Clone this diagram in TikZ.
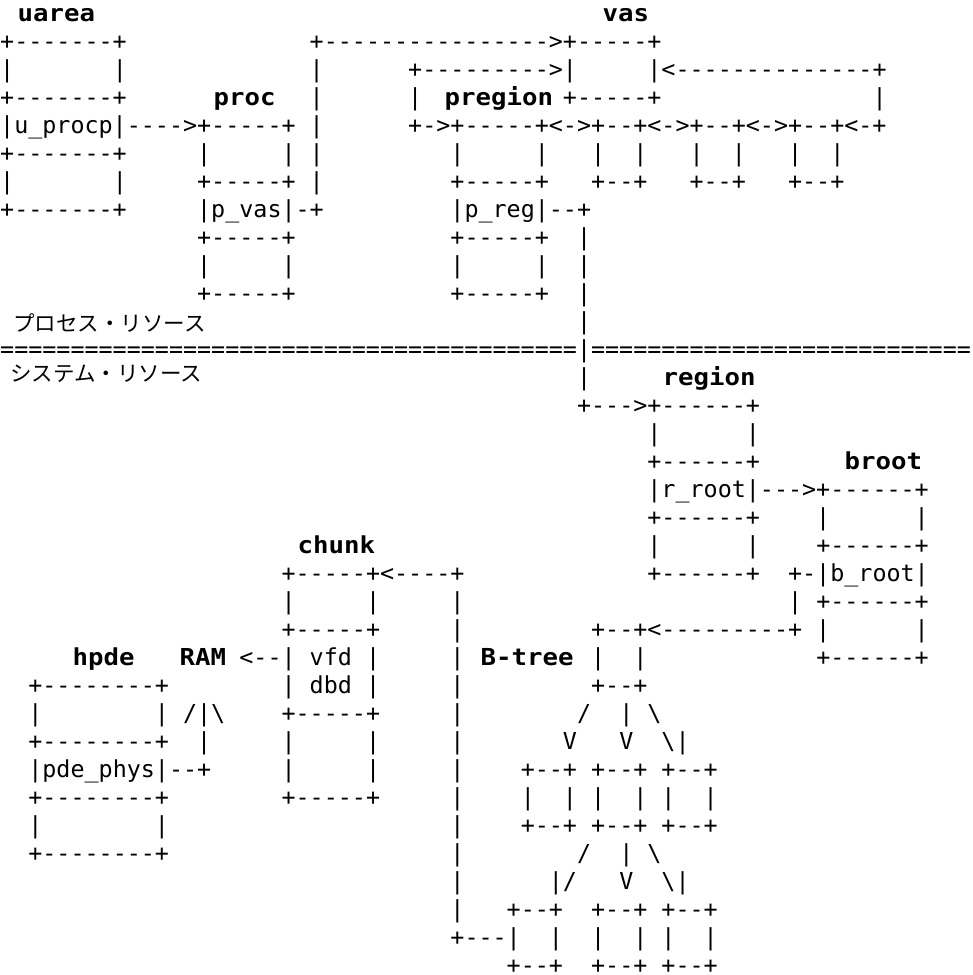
\documentclass[tikz,border=0pt]{standalone}
\usepackage{fontspec}
\setmonofont{DejaVu Sans Mono}
\newfontfamily\lblfont{DejaVu Sans Mono}[FakeStretch=1.1]
\newfontfamily\jpfont{Noto Sans CJK JP}
\newlength\cw
\setlength\cw{14.07pt}
\newcommand\sk[1]{\hspace{#1\cw}}

\begin{document}
\begin{tikzpicture}[x=1pt,y=1pt,
  asc/.style={anchor=base west,inner sep=0pt,font=\ttfamily\fontsize{23.37pt}{28pt}\selectfont},
  lbl/.style={anchor=base west,inner sep=0pt,font=\lblfont\bfseries\fontsize{23.37pt}{28pt}\selectfont},
  jp/.style={anchor=base west,inner sep=0pt,font=\jpfont\fontsize{21.5pt}{28pt}\selectfont}
]
\path[use as bounding box] (0,0) rectangle (973,-975);
\node[lbl] (uarea) at (17.5,-21) {uarea};
\node[lbl] (vas) at (602.5,-21) {vas};
\node[lbl] (proc) at (213.5,-105) {proc};
\node[lbl] (pregion) at (444.5,-105) {pregion};
\node[lbl] (region) at (662.5,-385) {region};
\node[lbl] (broot) at (844.5,-469) {broot};
\node[lbl] (chunk) at (297.5,-553) {chunk};
\node[lbl] (hpde) at (72.5,-665) {hpde};
\node[lbl] (ram) at (179.5,-665) {RAM};
\node[lbl] (btree) at (480.5,-665) {B-tree};
\node[jp] (procres) at (13,-331) {プロセス・リソース};
\node[jp] (sysres) at (10,-381) {システム・リソース};
\node[asc] (r1) at (0,-49) {+-------+\sk{13}+---------------->+-----+};
\node[asc] (r2) at (0,-77) {|\sk{7}|\sk{13}|\sk{6}+--------->|\sk{5}|<--------------+};
\node[asc] (r3) at (0,-105) {+-------+\sk{13}|\sk{6}|\sk{10}+-----+\sk{15}|};
\node[asc] (r4) at (0,-133) {|u\_procp|---->+-----+\sk{1}|\sk{6}+->+-----+<->+--+<->+--+<->+--+<-+};
\node[asc] (r5) at (0,-161) {+-------+\sk{5}|\sk{5}|\sk{1}|\sk{9}|\sk{5}|\sk{3}|\sk{2}|\sk{3}|\sk{2}|\sk{3}|\sk{2}|};
\node[asc] (r6) at (0,-189) {|\sk{7}|\sk{5}+-----+\sk{1}|\sk{9}+-----+\sk{3}+--+\sk{3}+--+\sk{3}+--+};
\node[asc] (r7) at (0,-217) {+-------+\sk{5}|p\_vas|-+\sk{9}|p\_reg|--+};
\node[asc] (r8) at (0,-245) {\sk{14}+-----+\sk{11}+-----+\sk{2}|};
\node[asc] (r9) at (0,-273) {\sk{14}|\sk{5}|\sk{11}|\sk{5}|\sk{2}|};
\node[asc] (r10) at (0,-301) {\sk{14}+-----+\sk{11}+-----+\sk{2}|};
\node[asc] (r11) at (0,-329) {\sk{41}|};
\node[asc] (r12) at (0,-357) {=========================================|===========================};
\node[asc] (r13) at (0,-385) {\sk{41}|};
\node[asc] (r14) at (0,-413) {\sk{41}+--->+------+};
\node[asc] (r15) at (0,-441) {\sk{46}|\sk{6}|};
\node[asc] (r16) at (0,-469) {\sk{46}+------+};
\node[asc] (r17) at (0,-497) {\sk{46}|r\_root|--->+------+};
\node[asc] (r18) at (0,-525) {\sk{46}+------+\sk{4}|\sk{6}|};
\node[asc] (r19) at (0,-553) {\sk{46}|\sk{6}|\sk{4}+------+};
\node[asc] (r20) at (0,-581) {\sk{20}+-----+<----+\sk{13}+------+\sk{2}+-|b\_root|};
\node[asc] (r21) at (0,-609) {\sk{20}|\sk{5}|\sk{5}|\sk{23}|\sk{1}+------+};
\node[asc] (r22) at (0,-637) {\sk{20}+-----+\sk{5}|\sk{9}+--+<---------+\sk{1}|\sk{6}|};
\node[asc] (r23) at (0,-665) {\sk{17}<--|\sk{1}vfd\sk{1}|\sk{5}|\sk{9}|\sk{2}|\sk{12}+------+};
\node[asc] (r24) at (0,-693) {\sk{2}+--------+\sk{8}|\sk{1}dbd\sk{1}|\sk{5}|\sk{9}+--+};
\node[asc] (r25) at (0,-721) {\sk{2}|\sk{8}|\sk{1}/|\textbackslash\sk{4}+-----+\sk{5}|\sk{8}/\sk{2}|\sk{1}\textbackslash};
\node[asc] (r26) at (0,-749) {\sk{2}+--------+\sk{2}|\sk{5}|\sk{5}|\sk{5}|\sk{7}V\sk{3}V\sk{2}\textbackslash|};
\node[asc] (r27) at (0,-777) {\sk{2}|pde\_phys|--+\sk{5}|\sk{5}|\sk{5}|\sk{4}+--+\sk{1}+--+\sk{1}+--+};
\node[asc] (r28) at (0,-805) {\sk{2}+--------+\sk{8}+-----+\sk{5}|\sk{4}|\sk{2}|\sk{1}|\sk{2}|\sk{1}|\sk{2}|};
\node[asc] (r29) at (0,-833) {\sk{2}|\sk{8}|\sk{20}|\sk{4}+--+\sk{1}+--+\sk{1}+--+};
\node[asc] (r30) at (0,-861) {\sk{2}+--------+\sk{20}|\sk{8}/\sk{2}|\sk{1}\textbackslash};
\node[asc] (r31) at (0,-889) {\sk{32}|\sk{6}|/\sk{3}V\sk{2}\textbackslash|};
\node[asc] (r32) at (0,-917) {\sk{32}|\sk{3}+--+\sk{2}+--+\sk{1}+--+};
\node[asc] (r33) at (0,-945) {\sk{32}+---|\sk{2}|\sk{2}|\sk{2}|\sk{1}|\sk{2}|};
\node[asc,text depth=0pt] (r34) at (0,-973) {\sk{36}+--+\sk{2}+--+\sk{1}+--+};
\end{tikzpicture}
\end{document}
